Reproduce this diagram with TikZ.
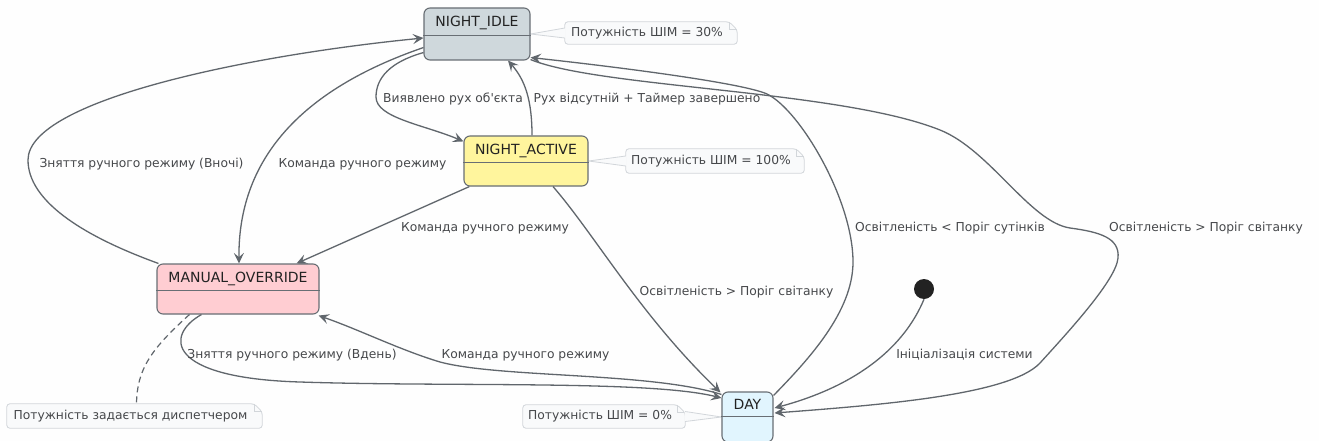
\documentclass[tikz,border=0pt]{standalone}
\usepackage{fontspec}
\setmainfont{DejaVu Sans}[Ligatures=TeXOff]
\usetikzlibrary{arrows.meta,calc,backgrounds}

\definecolor{edgecol}{RGB}{96,102,108}
\definecolor{boxbd}{RGB}{104,110,116}
\definecolor{idlefill}{RGB}{207,216,220}
\definecolor{activefill}{RGB}{255,245,157}
\definecolor{manualfill}{RGB}{255,205,210}
\definecolor{dayfill}{RGB}{225,245,254}
\definecolor{notebg}{RGB}{249,250,251}
\definecolor{notebd}{RGB}{210,214,218}
\definecolor{lblcol}{RGB}{70,72,75}
\definecolor{titlecol}{RGB}{34,34,34}
\definecolor{pagebg}{RGB}{254,254,254}
\definecolor{dotcol}{RGB}{34,34,34}

\tikzset{
  statebox/.style={draw=boxbd, line width=1.1pt, rounded corners=6pt, inner sep=0pt},
  statetitle/.style={text=titlecol, font=\fontsize{14}{16}\selectfont, inner sep=0pt, anchor=base},
  divider/.style={draw=boxbd, line width=1.1pt},
  trans/.style={draw=edgecol, line width=1.3pt, -{Stealth[length=10.5pt,width=10pt,inset=4.2pt]}},
  lbl/.style={text=lblcol, font=\fontsize{12.3}{14}\selectfont, inner sep=0pt, anchor=base},
  notetext/.style={text=lblcol, font=\fontsize{12.3}{14}\selectfont, inner sep=0pt},
  notebox/.style={draw=notebd, fill=notebg, line width=0.8pt, rounded corners=3pt},
  notefold/.style={draw=notebd, line width=0.8pt},
  notelink/.style={draw=edgecol, line width=1.2pt, dash pattern=on 6pt off 4pt},
  initdot/.style={circle, fill=dotcol, minimum size=20pt, inner sep=0pt},
}

% outline of a note with a folded top-right corner, behind its text node
\newcommand\noteoutline[1]{%
  \begin{pgfonlayer}{background}
    \filldraw[notebox] (#1.north west) -- (#1.north east) -- ($(#1.north east)+(8,8)$)
      -- ($(#1.south east)+(8,0)$) -- (#1.south west) -- cycle;
    \draw[notefold] (#1.north east) -- ($(#1.north east)+(0,8)$) -- ($(#1.north east)+(8,8)$);
  \end{pgfonlayer}}

\begin{document}
\begin{tikzpicture}[x=1pt,y=-1pt]
\useasboundingbox (0,0) rectangle (1319,441);
\begin{pgfonlayer}{background}
  \fill[pagebg] (0,0) rectangle (1319,441);
\end{pgfonlayer}

% ---- states ----
\node[statebox, fill=idlefill, minimum width=106, minimum height=52] (ni) at (477,34) {};
\node[statetitle] (ni-t) at (477,27) {NIGHT\_IDLE};
\draw[divider] ($(ni.north west)+(0,28)$) -- ($(ni.north east)+(0,28)$);

\node[statebox, fill=activefill, minimum width=124, minimum height=50] (na) at (526,161) {};
\node[statetitle] (na-t) at (526,154) {NIGHT\_ACTIVE};
\draw[divider] ($(na.north west)+(0,27)$) -- ($(na.north east)+(0,27)$);

\node[statebox, fill=manualfill, minimum width=162, minimum height=50] (mo) at (238,289) {};
\node[statetitle] (mo-t) at (238,282) {MANUAL\_OVERRIDE};
\draw[divider] ($(mo.north west)+(0,27)$) -- ($(mo.north east)+(0,27)$);

\node[statebox, fill=dayfill, minimum width=51, minimum height=50] (day) at (747.5,417) {};
\node[statetitle] (day-t) at (747.5,409) {DAY};
\draw[divider] ($(day.north west)+(0,25)$) -- ($(day.north east)+(0,25)$);

\node[initdot] (init) at (924,289) {};

% ---- notes ----
\node[notetext, minimum width=164, minimum height=22] (n30) at (647,33) {Потужність ШІМ = 30\%};
\noteoutline{n30}
\begin{pgfonlayer}{background}
  \fill[notebg] (ni.east) -- ($(n30.west)+(0.7,-5)$) -- ($(n30.west)+(0.7,5)$) -- cycle;
  \draw[notefold] ($(n30.west)+(0,-5)$) -- (ni.east) -- ($(n30.west)+(0,5)$);
\end{pgfonlayer}

\node[notetext, minimum width=170, minimum height=24] (n100) at (711,161) {Потужність ШІМ = 100\%};
\noteoutline{n100}
\begin{pgfonlayer}{background}
  \fill[notebg] (na.east) -- ($(n100.west)+(0.7,-5)$) -- ($(n100.west)+(0.7,5)$) -- cycle;
  \draw[notefold] ($(n100.west)+(0,-5)$) -- (na.east) -- ($(n100.west)+(0,5)$);
\end{pgfonlayer}

\node[notetext, minimum width=154, minimum height=23] (n0) at (600,416.5) {Потужність ШІМ = 0\%};
\noteoutline{n0}
\begin{pgfonlayer}{background}
  \fill[notebg] (day.west) -- ($(n0.east)+(7.3,-5)$) -- ($(n0.east)+(7.3,5)$) -- cycle;
  \draw[notefold] ($(n0.east)+(8,-5)$) -- (day.west) -- ($(n0.east)+(8,5)$);
\end{pgfonlayer}

\node[notetext, minimum width=247, minimum height=24] (ndisp) at (130.5,416) {Потужність задається диспетчером};
\noteoutline{ndisp}
\draw[notelink] ($(mo.south west)+(33,0)$) .. controls (150,350) and (137,370) .. ($(ndisp.north)+(6,0)$);

% ---- transitions ----
\draw[trans] ($(ni.south west)+(0,-8)$) .. controls (390,62) and (376,78) .. (376,97)
  .. controls (376,118) and (425,125) .. ($(na.north west)+(0,6)$);
\node[lbl] (l-det) at (453,103) {Виявлено рух об'єкта};

\draw[trans] ($(na.north)+(6,0)$) .. controls (532,100) and (525,80) .. ($(ni.south)+(31,0)$);
\node[lbl] (l-abs) at (647,103) {Рух відсутній + Таймер завершено};

\draw[trans] ($(ni.south west)+(0,-13)$) .. controls (300,90) and (238,160) .. ($(mo.north)+(1,0)$);
\node[lbl] (l-cmd1) at (362.5,167) {Команда ручного режиму};

\draw[trans] ($(mo.north west)+(2,0)$) .. controls (80,235) and (28,200) .. (28,160)
  .. controls (28,100) and (250,55) .. ($(ni.west)+(0,4)$);
\node[lbl] (l-night) at (141.5,167) {Зняття ручного режиму (Вночі)};

\draw[trans] ($(na.south west)+(6,0)$) -- ($(mo.north east)+(-23,0)$);
\node[lbl] (l-cmd2) at (485,231) {Команда ручного режиму};

\draw[trans] ($(na.south)+(27,0)$) .. controls (595,235) and (640,315) .. ($(day.north west)+(-1,1)$);
\node[lbl] (l-dawn1) at (736.5,295) {Освітленість > Поріг світанку};

\draw[trans] ($(mo.south west)+(45,0)$) .. controls (165,335) and (165,378) .. (300,382)
  .. controls (450,387) and (650,380) .. ($(day.west)+(0,-19)$);
\node[lbl] (l-day) at (292,358) {Зняття ручного режиму (Вдень)};

\draw[trans] ($(day.north west)+(0,3)$) .. controls (650,372) and (500,378) .. (440,362)
  .. controls (400,350) and (360,330) .. ($(mo.south east)+(-1,1)$);
\node[lbl] (l-cmd3) at (525.5,358) {Команда ручного режиму};

\draw[trans] ($(day.north east)+(0,4)$) .. controls (808,360) and (853,312) .. (853,262)
  .. controls (853,200) and (800,110) .. (767,94)
  .. controls (740,82) and (600,65) .. ($(ni.south east)+(0,-3)$);
\node[lbl] (l-dusk) at (950,231) {Освітленість < Поріг сутінків};

\draw[trans] ($(ni.south east)+(0,-1)$) .. controls (600,88) and (840,90) .. (940,130)
  .. controls (990,150) and (1030,222) .. (1070,228)
  .. controls (1100,232) and (1120,238) .. (1118,258)
  .. controls (1116,280) and (1070,330) .. (1040,363)
  .. controls (1010,395) and (880,405) .. ($(day.east)+(1,-4)$);
\node[lbl] (l-dawn2) at (1206,231) {Освітленість > Поріг світанку};

\draw[trans] (init.south) .. controls (905,345) and (860,385) .. ($(day.east)+(1,-9)$);
\node[lbl] (l-init) at (964.5,358) {Ініціалізація системи};

\end{tikzpicture}
\end{document}
